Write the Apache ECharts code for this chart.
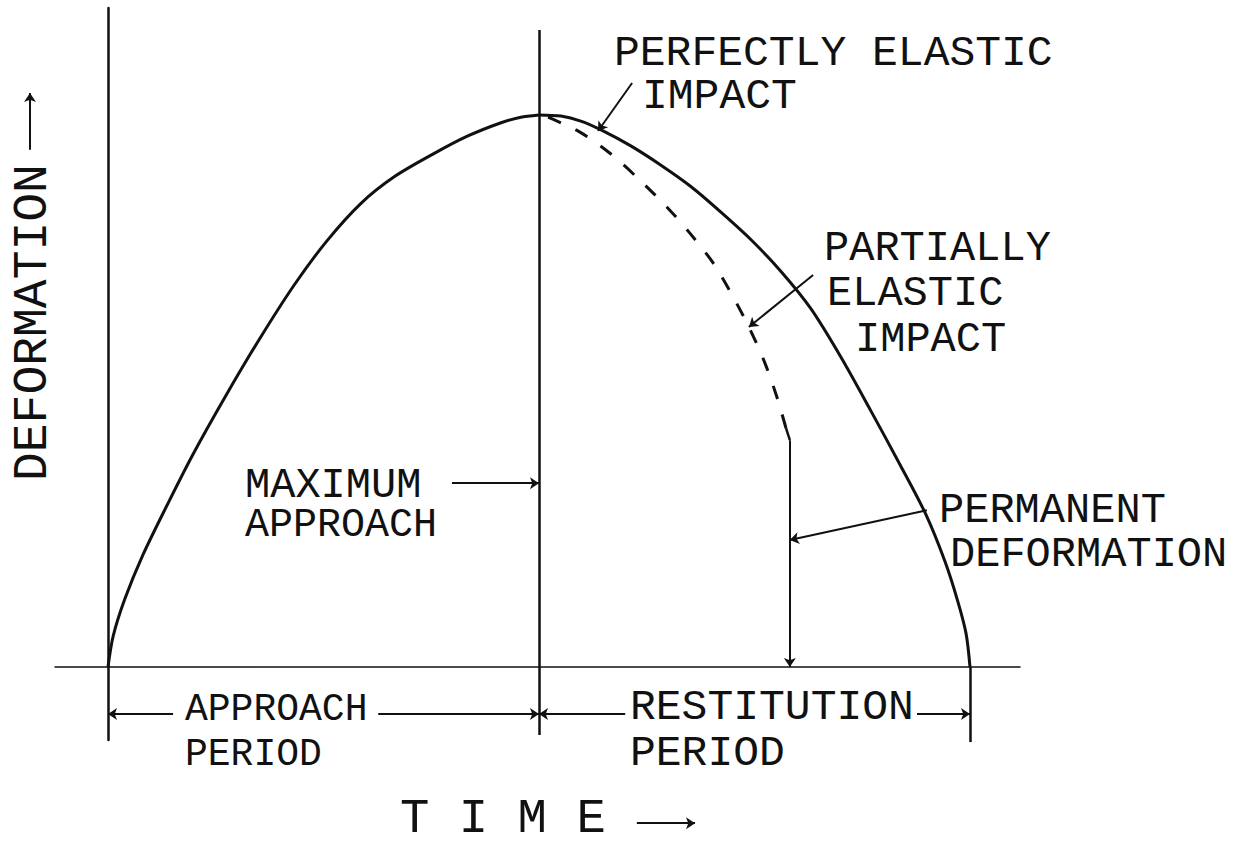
<!DOCTYPE html>
<html>
<head>
<meta charset="utf-8">
<title>Deformation during impact</title>
<script src="https://cdn.jsdelivr.net/npm/echarts@6/dist/echarts.min.js"></script>
<style>
  html, body { margin: 0; padding: 0; background: #fff; }
  #impact { width: 1242px; height: 841px; }
</style>
</head>
<body>
<div id="impact"></div>
<script>
// time: 0..10 approach period, 10..20 restitution period
// deformation: 10 = maximum approach
const approachCurve = [
  [0, 0], [0.12, 0.56], [0.39, 1.23], [0.81, 2.03], [1.37, 2.93], [1.97, 3.85],
  [2.76, 4.95], [3.53, 5.96], [4.32, 6.92], [5.08, 7.72], [5.87, 8.40],
  [6.64, 8.88], [7.56, 9.30], [8.35, 9.62], [9.12, 9.86], [9.58, 9.96], [10, 10]
];
const elasticCurve = [
  [10, 10], [10.51, 9.98], [10.97, 9.89], [11.44, 9.73], [12.13, 9.44], [12.83, 9.09],
  [13.53, 8.70], [14.22, 8.24], [14.92, 7.74], [15.61, 7.17], [16.30, 6.50],
  [17.00, 5.62], [17.70, 4.64], [18.38, 3.66], [18.96, 2.79], [19.42, 1.91],
  [19.72, 1.18], [19.91, 0.60], [20, 0]
];
const partialCurve = [
  [10.21, 9.96], [10.95, 9.69], [11.69, 9.28], [12.30, 8.85], [12.97, 8.33],
  [13.50, 7.86], [14.04, 7.32], [14.48, 6.74], [14.90, 6.11], [15.24, 5.51],
  [15.52, 4.89], [15.73, 4.33]
];
const maxApproachTime = 10;
const endTime = 20;
const permanentTime = 15.82;
const permanentDeformation = 4.11;

// pixel scale of the drawing: 43.1 px per time unit, 55.2 px per deformation unit
const chart = echarts.init(document.getElementById('impact'), null, { renderer: 'svg' });

const ink = '#111';
const font = 'Liberation Mono';

// annotation arrows (data coordinates), arrow head at the second point
const arrows = [
  [[1.51, -0.85], [0, -0.85]],
  [[6.27, -0.85], [maxApproachTime, -0.85]],
  [[12.0, -0.85], [maxApproachTime, -0.85]],
  [[18.77, -0.85], [endTime, -0.85]],
  [[7.98, 3.33], [maxApproachTime, 3.33]],
  [[12.16, 10.58], [11.37, 9.71]],
  [[16.36, 7.10], [14.87, 6.16]],
  [[19.0, 2.84], [permanentTime, 2.30]],
  [[permanentTime, permanentDeformation], [permanentTime, 0]],
  [[-1.81, 9.37], [-1.81, 10.40]],
  [[12.27, -2.83], [13.62, -2.83]]
];
// plain strokes
const strokes = [
  [[maxApproachTime, 11.54], [maxApproachTime, -1.23]],
  [[endTime, 0], [endTime, -1.36]],
  [[15.73, 4.33], [permanentTime, permanentDeformation]]
];

const labels = [
  { text: 'PERFECTLY ELASTIC', x: 614, y: 53, size: 43 },
  { text: 'IMPACT', x: 642, y: 96, size: 43 },
  { text: 'PARTIALLY', x: 824, y: 249, size: 42 },
  { text: 'ELASTIC', x: 827, y: 294, size: 42 },
  { text: 'IMPACT', x: 855, y: 340, size: 42 },
  { text: 'PERMANENT', x: 939, y: 511, size: 42 },
  { text: 'DEFORMATION', x: 950, y: 555, size: 42 },
  { text: 'MAXIMUM', x: 245, y: 486, size: 42 },
  { text: 'APPROACH', x: 245, y: 525, size: 40 },
  { text: 'APPROACH', x: 185, y: 709, size: 38 },
  { text: 'PERIOD', x: 185, y: 754, size: 38 },
  { text: 'RESTITUTION', x: 630, y: 707, size: 43 },
  { text: 'PERIOD', x: 630, y: 753, size: 43 },
  { text: 'DEFORMATION', x: 33, y: 481, size: 48, rotation: Math.PI / 2 },
  { text: 'T I M E', x: 400, y: 819, size: 49 }
];

const hiddenAxis = {
  type: 'value',
  axisTick: { show: false },
  axisLabel: { show: false },
  splitLine: { show: false }
};

const curveStyle = {
  type: 'line', smooth: 0.3,
  showSymbol: false, clip: false
};

chart.setOption({
  animation: false,
  backgroundColor: '#fff',
  grid: { left: 55, right: 222, top: 8, bottom: 101 },
  xAxis: Object.assign({}, hiddenAxis, {
    min: -1.2297, max: 21.1601,
    axisLine: { show: true, onZero: true, lineStyle: { color: ink, width: 1.5 } }
  }),
  yAxis: Object.assign({}, hiddenAxis, {
    min: -1.3225, max: 11.9384,
    axisLine: { show: true, onZero: true, lineStyle: { color: ink, width: 2.5 } }
  }),
  series: [
    Object.assign({ name: 'approach', data: approachCurve,
      lineStyle: { color: ink, width: 3 } }, curveStyle),
    Object.assign({ name: 'perfectly elastic', data: elasticCurve,
      lineStyle: { color: ink, width: 3 } }, curveStyle),
    Object.assign({ name: 'partially elastic', data: partialCurve,
      lineStyle: { color: ink, width: 3, type: [14, 16] } }, curveStyle),
    {
      name: 'strokes', type: 'lines', coordinateSystem: 'cartesian2d', clip: false,
      symbol: 'none', lineStyle: { color: ink, width: 2.5, opacity: 1 },
      data: strokes.map(c => ({ coords: c }))
    },
    {
      name: 'arrows', type: 'lines', coordinateSystem: 'cartesian2d', clip: false,
      symbol: ['none', 'arrow'], symbolSize: 9,
      lineStyle: { color: ink, width: 2, opacity: 1 },
      data: arrows.map(c => ({ coords: c }))
    }
  ],
  graphic: labels.map(l => ({
    type: 'text',
    x: l.x,
    y: l.y,
    rotation: l.rotation || 0,
    style: {
      text: l.text,
      fill: ink,
      font: l.size + 'px "' + font + '"',
      lineHeight: Math.round(l.size * 0.75),
      align: 'left',
      verticalAlign: 'middle'
    }
  }))
});
</script>
</body>
</html>
